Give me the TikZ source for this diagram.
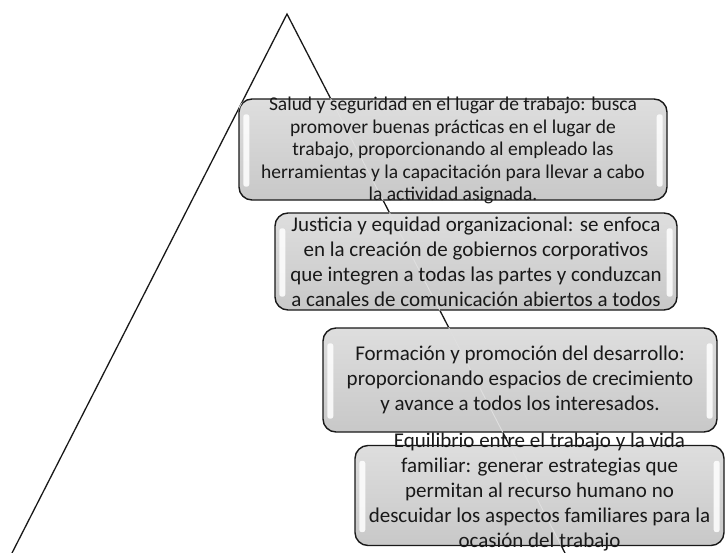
\documentclass[tikz,border=0pt]{standalone}
\usepackage{fontspec}
\setmainfont{Carlito}
\definecolor{boxtop}{RGB}{222,222,222}
\definecolor{boxbot}{RGB}{200,200,200}
\definecolor{ink}{RGB}{25,25,25}
\begin{document}
\begin{tikzpicture}[x=1pt,y=-1pt,
  boxshape/.style={draw=black!90, line width=1.4pt, rounded corners=13pt,
    top color=boxtop, bottom color=boxbot, inner sep=0pt},
  txt/.style={align=center, inner sep=0pt, text=ink},
  bigtxt/.style={txt, font=\fontsize{21pt}{25pt}\selectfont},
  smalltxt/.style={txt, font=\fontsize{19.5pt}{22.5pt}\selectfont},
  side/.style={line width=1.3pt, black!90},
  faint/.style={line width=0.9pt, white!75!gray},
  gloss/.style={fill=white, opacity=0.85, rounded corners=2.5pt},
]
\useasboundingbox (0,0) rectangle (726,552);
\coordinate (apex) at (287,14);
\coordinate (bl) at (12,553);
\coordinate (br) at (565,553);
\draw[side] (bl) -- (apex) -- (br);

\node[boxshape, minimum width=428pt, minimum height=101pt] (b1) at (453,149.5) {};
\node[boxshape, minimum width=402pt, minimum height=97pt] (b2) at (476,261.5) {};
\node[boxshape, minimum width=394pt, minimum height=104pt] (b3) at (520,380) {};
\node[boxshape, minimum width=369pt, minimum height=100pt] (b4) at (539.5,495.5) {};

\foreach \b in {b1,b2,b3,b4}{
  \fill[gloss] ([xshift=5pt,yshift=-16pt]\b.north west) rectangle ([xshift=11pt,yshift=14pt]\b.south west);
  \fill[gloss] ([xshift=-11pt,yshift=-16pt]\b.north east) rectangle ([xshift=-5pt,yshift=14pt]\b.south east);
}

\begin{scope}
  \clip[rounded corners=13pt] (b1.north west) rectangle (b1.south east)
    (b2.north west) rectangle (b2.south east)
    (b3.north west) rectangle (b3.south east)
    (b4.north west) rectangle (b4.south east);
  \draw[faint] (bl) -- (apex) -- (br);
\end{scope}

\node[smalltxt] (t1) at ([yshift=-1pt]b1.center) {Salud y seguridad en el lugar de trabajo: busca\\promover buenas prácticas en el lugar de\\trabajo, proporcionando al empleado las\\herramientas y la capacitación para llevar a cabo\\la actividad asignada.};
\node[bigtxt] (t2) at (b2.center) {Justicia y equidad organizacional: se enfoca\\en la creación de gobiernos corporativos\\que integren a todas las partes y conduzcan\\a canales de comunicación abiertos a todos};
\node[bigtxt] (t3) at (b3.center) {Formación y promoción del desarrollo:\\proporcionando espacios de crecimiento\\y avance a todos los interesados.};
\node[bigtxt] (t4) at ([yshift=3pt]b4.center) {Equilibrio entre el trabajo y la vida\\familiar: generar estrategias que\\permitan al recurso humano no\\descuidar los aspectos familiares para la\\ocasión del trabajo};
\end{tikzpicture}
\end{document}
